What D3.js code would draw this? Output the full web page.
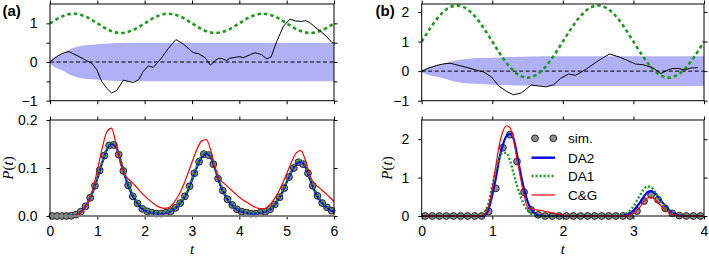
<!DOCTYPE html>
<html><head><meta charset="utf-8">
<script src="https://cdn.jsdelivr.net/npm/d3@7"></script>
<style>
body{margin:0;background:#fff;}
svg{display:block;font-family:"Liberation Sans",Arial,sans-serif;}
</style></head><body>
<svg id="c" width="709" height="256"></svg>
<script>
// ---------- data ----------
// noise trajectory (shared by both panels)
const noiseT = [0,0.1,0.21,0.3,0.4,0.53,0.63,0.78,0.88,0.99,1.09,1.2,1.3,1.41,1.55,1.65,1.76,1.87,1.97,2.08,2.18,2.32,2.5,2.66,2.82,3.03,3.13,3.27,3.39,3.5,3.56,3.63,3.73,3.8,3.91,4.01,4.08,4.23,4.33,4.47,4.58,4.67,4.79,4.93,5.07,5.18,5.32,5.4,5.49,5.6,5.74,5.85,5.95,6.0];
const noiseV = [0,0.1,0.19,0.24,0.27,0.19,0.13,0.03,-0.03,-0.2,-0.5,-0.68,-0.8,-0.74,-0.47,-0.5,-0.53,-0.46,-0.24,-0.1,-0.14,0.05,0.35,0.58,0.46,0.24,0.22,0.12,-0.08,0.05,0.09,0.09,0.04,0.1,0.12,0.14,0.11,0.19,0.24,0.19,0.08,0.13,0.53,0.92,1.11,1.06,1.05,1.07,1.02,0.9,0.77,0.65,0.51,0.48];
// shaded band half-width
const bandT = [0,0.02,0.06,0.12,0.25,0.46,0.67,0.95,1.4,2,3,4,5,6];
const bandW = [0,0.06,0.1,0.15,0.21,0.35,0.42,0.45,0.49,0.5,0.5,0.5,0.5,0.5];
// driving signals
const driveStepA = 0.25;
const driveA = [1,1.177,1.25,1.177,1,0.823,0.75,0.823,1,1.177,1.25,1.177,1,0.823,0.75,0.823,1,1.177,1.25,1.177,1,0.823,0.75,0.823,1];
const driveStepB = 0.125;
const driveB = [1,1.467,1.863,2.127,2.22,2.127,1.863,1.467,1,0.533,0.137,-0.127,-0.22,-0.127,0.137,0.533,
                1,1.467,1.863,2.127,2.22,2.127,1.863,1.467,1,0.533,0.137,-0.127,-0.22,-0.127,0.137,0.533,1];
// simulation histogram: bin centres start at 0.05, width 0.1
const simStart = 0.05, simStep = 0.1;
const simA = [0,0,0,0,0.0005,0.003,0.009,0.02,0.038,0.063,0.095,0.126,0.147,0.148,0.128,0.094,0.064,0.041,0.026,0.015,
  0.01,0.007,0.005,0.005,0.007,0.01,0.017,0.027,0.041,0.062,0.089,0.113,0.129,0.127,0.108,0.078,0.053,0.035,0.023,0.014,
  0.009,0.007,0.005,0.005,0.007,0.009,0.014,0.024,0.039,0.058,0.081,0.1,0.112,0.108,0.089,0.063,0.042,0.027,0.018,0.011];
const simB = [0,0,0,0,0,0,0,0,0,0.12,0.72,1.78,2.12,1.42,0.62,0.16,0.03,
  0,0,0,0,0,0,0,0,0,0,0,0,0,0.13,0.39,0.55,0.42,0.2,0.07,0.01,0,0,0];
// P(t) curves, panel (a), step 0.1
const stepA = 0.1;
const da2A = [0,0,0,0,0.0005,0.001,0.005,0.013,0.028,0.049,0.078,0.110,0.138,0.150,0.143,0.111,0.078,0.052,0.033,0.020,0.012,
  0.008,0.006,0.005,0.006,0.008,0.013,0.021,0.033,0.050,0.075,0.101,0.122,0.130,0.121,0.094,0.064,0.043,0.028,0.018,0.011,
  0.008,0.006,0.005,0.006,0.008,0.011,0.018,0.031,0.048,0.070,0.092,0.108,0.113,0.101,0.075,0.050,0.033,0.022,0.014,0.009];
const da1A = [0,0,0,0,0.0005,0.001,0.005,0.013,0.029,0.051,0.080,0.113,0.141,0.153,0.146,0.115,0.082,0.056,0.036,0.023,0.014,
  0.009,0.007,0.006,0.007,0.009,0.014,0.022,0.035,0.052,0.078,0.104,0.125,0.133,0.124,0.098,0.068,0.046,0.031,0.020,0.013,
  0.009,0.007,0.006,0.007,0.009,0.012,0.019,0.032,0.050,0.072,0.095,0.112,0.117,0.105,0.079,0.054,0.036,0.024,0.016,0.011];
const cgA = [0,0,0,0,0.0005,0.001,0.004,0.012,0.028,0.055,0.095,0.140,0.175,0.183,0.148,0.105,0.083,0.073,0.063,0.052,0.042,
  0.033,0.025,0.019,0.016,0.017,0.026,0.040,0.060,0.085,0.112,0.138,0.156,0.159,0.136,0.095,0.075,0.066,0.057,0.048,0.039,
  0.032,0.026,0.020,0.016,0.015,0.019,0.030,0.045,0.065,0.088,0.112,0.131,0.136,0.115,0.082,0.066,0.058,0.049,0.040,0.030];
// P(t) curves, panel (b), step 0.05
const stepB = 0.05;
const da2B = [0,0,0,0,0,0,0,0,0,0,0,0,0,0,0,0,0,0,
  0.03,0.2,0.55,0.98,1.5,1.85,2.08,2.14,2.02,1.6,1.12,0.7,0.38,0.18,0.07,0.02,0.005,
  0,0,0,0,0,0,0,0,0,0,0,0,0,0,0,0,0,0,0,0,0,0,
  0.01,0.03,0.07,0.14,0.25,0.37,0.51,0.62,0.65,0.6,0.5,0.38,0.26,0.16,0.08,0.04,0.015,
  0,0,0,0,0,0,0];
const da1B = [0,0,0,0,0,0,0,0,0,0,0,0,0,0,0,0,
  0.01,0.04,0.13,0.36,0.78,1.2,1.5,1.65,1.64,1.45,1.12,0.8,0.52,0.3,0.15,0.06,0.02,0.005,
  0,0,0,0,0,0,0,0,0,0,0,0,0,0,0,0,0,0,0,0,0,0,
  0.01,0.03,0.07,0.14,0.25,0.4,0.56,0.7,0.77,0.75,0.65,0.5,0.35,0.22,0.12,0.06,0.02,0.01,
  0,0,0,0,0,0,0];
const cgB = [0,0,0,0,0,0,0,0,0,0,0,0,0,0,0,0,0,
  0.01,0.06,0.28,0.72,1.3,1.85,2.2,2.35,2.3,2.0,1.5,1.0,0.55,0.24,0.19,0.17,0.155,0.14,0.12,0.1,0.08,0.06,0.04,0.02,0.01,
  0,0,0,0,0,0,0,0,0,0,0,0,0,0,0,0,
  0.01,0.03,0.07,0.14,0.25,0.38,0.47,0.49,0.44,0.35,0.25,0.16,0.09,0.04,0.02,0.01,
  0,0,0,0,0,0,0];
const legendNames = ["sim.","DA2","DA1","C&G"];
const xTicksA = [0,1,2,3,4,5,6];
const xTicksB = [0,1,2,3,4];

// ---------- layout ----------
const svg = d3.select("#c");
const TOP = [4, 100.7], BOT = [120, 216];
const C = {band:"#b0b0f6", drive:"#1e9a1e", sim:"#8e8e8e", simStroke:"#222", da2:"#0000ff", da1:"#1f9b1f", cg:"#ff0000"};

const panels = [
  {label:"(a)", lx:2.5, x0:50, x1:334, tMax:6, xTicks:xTicksA, topDom:[-1,1.5], topTicks:[-1,-0.5,0,0.5,1],
   botDom:[0,0.2], botTicks:[0,0.1,0.2], botFmt:d3.format(".1f"), drive:driveA, driveStep:driveStepA,
   sim:simA, da2:da2A, da1:da1A, cg:cgA, cStep:stepA, grayBase:true, legend:false, ylx:13},
  {label:"(b)", lx:375.5, x0:421.7, x1:704, tMax:4, xTicks:xTicksB, topDom:[-1,2.27], topTicks:[-1,0,1,2],
   botDom:[0,2.5], botTicks:[0,1,2], botFmt:d3.format("d"), drive:driveB, driveStep:driveStepB,
   sim:simB, da2:da2B, da1:da1B, cg:cgB, cStep:stepB, grayBase:false, legend:true, ylx:392}
];

const intFmt = d3.format("d");

function axes(g, x, y, xTicks, yTicks, yFmt, xLabels, x0, x1, y0, y1){
  const ts = 3.5;
  const l = g.append("g").attr("transform",`translate(${x0},0)`)
    .call(d3.axisLeft(y).tickValues(yTicks).tickSize(ts).tickPadding(9).tickFormat(yFmt));
  const r = g.append("g").attr("transform",`translate(${x1},0)`)
    .call(d3.axisRight(y).tickValues(yTicks).tickSize(ts).tickFormat(""));
  const t = g.append("g").attr("transform",`translate(0,${y0})`)
    .call(d3.axisTop(x).tickValues(xTicks).tickSize(ts).tickFormat(""));
  const b = g.append("g").attr("transform",`translate(0,${y1})`)
    .call(d3.axisBottom(x).tickValues(xTicks).tickSize(ts).tickPadding(7).tickFormat(xLabels ? intFmt : ""));
  [l,r,t,b].forEach(a=>{
    a.select(".domain").remove();
    a.selectAll("text").attr("font-size",14).attr("fill","#000").attr("font-family","Liberation Sans, Arial, sans-serif");
    a.selectAll("line").attr("stroke","#000").attr("stroke-width",1);
  });
  g.append("rect").attr("x",x0).attr("y",y0).attr("width",x1-x0).attr("height",y1-y0)
    .attr("fill","none").attr("stroke","#000").attr("stroke-width",1);
}

panels.forEach((p,pi)=>{
  const g = svg.append("g");
  const x = d3.scaleLinear().domain([0,p.tMax]).range([p.x0,p.x1]);
  const yT = d3.scaleLinear().domain(p.topDom).range([TOP[1],TOP[0]]);
  const yB = d3.scaleLinear().domain(p.botDom).range([BOT[1],BOT[0]]);

  const clipId = "clip"+pi;
  g.append("clipPath").attr("id",clipId).append("rect")
    .attr("x",p.x0).attr("y",TOP[0]).attr("width",p.x1-p.x0).attr("height",TOP[1]-TOP[0]);

  // ---- top plot ----
  const band = bandT.map((t,i)=>({t, w:bandW[i]})).filter(d=>d.t<=p.tMax);
  g.append("path").datum(band)
    .attr("d", d3.area().x(d=>x(d.t)).y0(d=>yT(-d.w)).y1(d=>yT(d.w)).curve(d3.curveMonotoneX))
    .attr("fill", C.band);
  g.append("line").attr("x1",p.x0).attr("x2",p.x1).attr("y1",yT(0)).attr("y2",yT(0))
    .attr("stroke","#000").attr("stroke-width",1).attr("stroke-dasharray","4,2.5");
  const drive = p.drive.map((v,i)=>({t:i*p.driveStep, v}));
  g.append("path").datum(drive).attr("clip-path",`url(#${clipId})`)
    .attr("d", d3.line().x(d=>x(d.t)).y(d=>yT(d.v)).curve(d3.curveCatmullRom))
    .attr("fill","none").attr("stroke",C.drive).attr("stroke-width",2.6).attr("stroke-dasharray","3.5,3");
  const noise = noiseT.map((t,i)=>({t, v:noiseV[i]})).filter(d=>d.t<=p.tMax+1e-9);
  g.append("path").datum(noise).attr("clip-path",`url(#${clipId})`)
    .attr("d", d3.line().x(d=>x(d.t)).y(d=>yT(d.v)))
    .attr("fill","none").attr("stroke","#000").attr("stroke-width",1);
  axes(g, x, yT, p.xTicks, p.topTicks, d=>Number.isInteger(d)? intFmt(d) : "", false, p.x0, p.x1, TOP[0], TOP[1]);

  // ---- bottom plot ----
  const line = d3.line().x(d=>x(d.t)).y(d=>yB(d.v)).curve(d3.curveMonotoneX);
  const mk = arr => arr.map((v,i)=>({t:i*p.cStep, v}));
  const simPts = p.sim.map((v,i)=>({t:simStart + i*simStep, v}));
  g.append("g").selectAll("circle").data(simPts).join("circle")
    .attr("cx",d=>x(d.t)).attr("cy",d=>yB(d.v)).attr("r",3.4)
    .attr("fill",C.sim).attr("stroke",C.simStroke).attr("stroke-width",1);
  g.append("path").datum(mk(p.da2)).attr("d",line)
    .attr("fill","none").attr("stroke",C.da2).attr("stroke-width",2.2);
  g.append("path").datum(mk(p.da1)).attr("d",line)
    .attr("fill","none").attr("stroke",C.da1).attr("stroke-width",2.4).attr("stroke-dasharray","2,2");
  g.append("path").datum(mk(p.cg)).attr("d",line)
    .attr("fill","none").attr("stroke",C.cg).attr("stroke-width",1.2);
  axes(g, x, yB, p.xTicks, p.botTicks, p.botFmt, true, p.x0, p.x1, BOT[0], BOT[1]);
  if(p.grayBase){
    g.append("line").attr("x1",p.x0).attr("x2",p.x1).attr("y1",BOT[1]).attr("y2",BOT[1])
      .attr("stroke","#808080").attr("stroke-width",2);
  }

  // labels
  g.append("text").attr("x",p.lx).attr("y",15.5).text(p.label)
    .attr("font-size",15).attr("font-weight","bold").attr("font-family","Liberation Sans, Arial, sans-serif");
  const yl = g.append("text").attr("transform",`translate(${p.ylx},168) rotate(-90)`)
    .attr("text-anchor","middle").attr("font-size",15).attr("font-family","Liberation Serif, DejaVu Serif, serif");
  yl.append("tspan").attr("font-style","italic").text("P");
  yl.append("tspan").text("(");
  yl.append("tspan").attr("font-style","italic").text("t");
  yl.append("tspan").text(")");
  g.append("text").attr("x",(p.x0+p.x1)/2).attr("y",254).attr("text-anchor","middle")
    .attr("font-size",15).attr("font-style","italic").attr("font-family","Liberation Serif, DejaVu Serif, serif").text("t");

  // legend
  if(p.legend){
    const ly = [138.3,157.7,176,195];
    const lg = g.append("g");
    const items = [
      {name:legendNames[0], type:"sim"},
      {name:legendNames[1], color:C.da2, w:2.4, dash:null},
      {name:legendNames[2], color:C.da1, w:2.4, dash:"2,2"},
      {name:legendNames[3], color:C.cg, w:1.2, dash:null}
    ];
    items.forEach((it,i)=>{
      if(it.type==="sim"){
        [535,553.3].forEach(cx=>lg.append("circle").attr("cx",cx).attr("cy",ly[i]).attr("r",3.4)
          .attr("fill",C.sim).attr("stroke",C.simStroke).attr("stroke-width",1));
      } else {
        lg.append("line").attr("x1",531.5).attr("x2",555).attr("y1",ly[i]).attr("y2",ly[i])
          .attr("stroke",it.color).attr("stroke-width",it.w).attr("stroke-dasharray",it.dash);
      }
      lg.append("text").attr("x",568).attr("y",ly[i]+5).text(it.name)
        .attr("font-size",13.5).attr("font-family","Liberation Sans, Arial, sans-serif");
    });
  }
});
</script>
</body></html>
